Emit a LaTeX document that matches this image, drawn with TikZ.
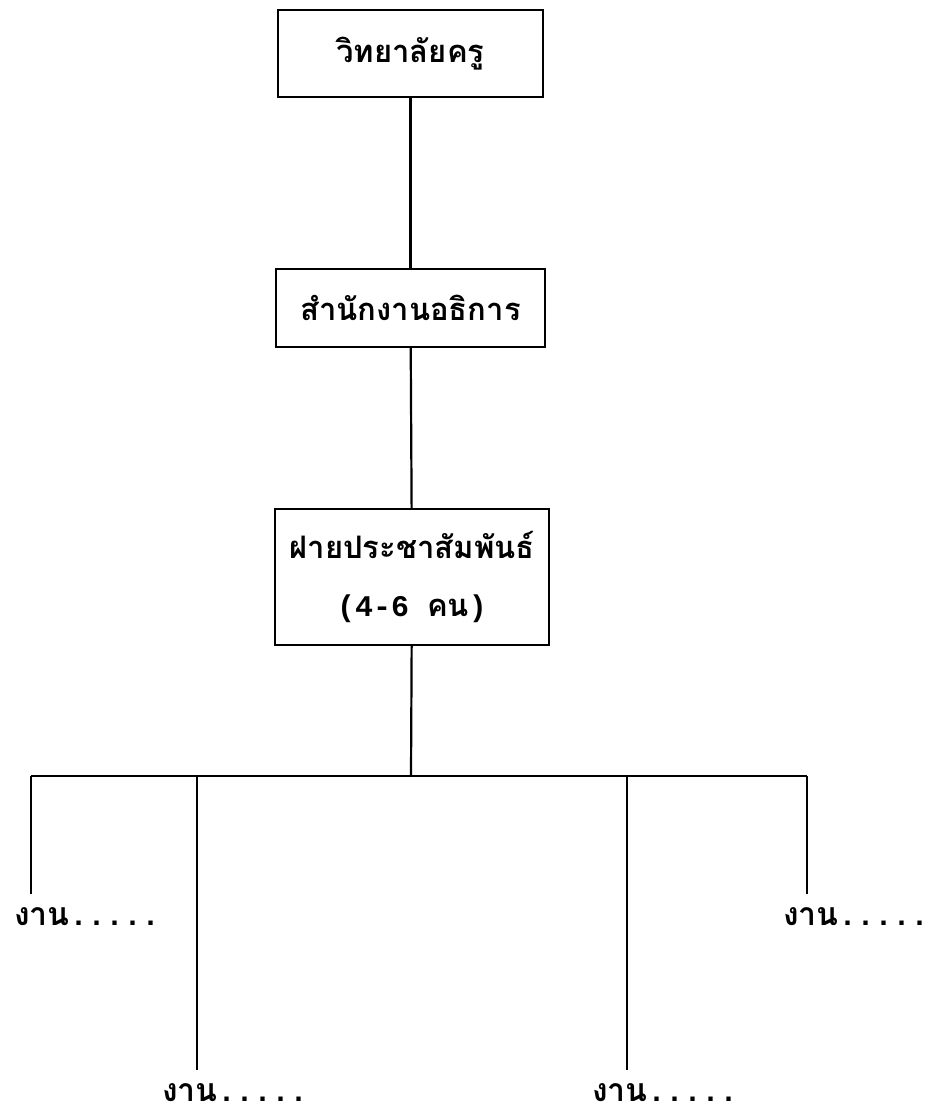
\documentclass[tikz,border=0pt]{standalone}
\usepackage{fontspec}
\newfontfamily\thaifont[Script=Thai]{Loma}
\newfontfamily\dotfont{Liberation Mono}
\usetikzlibrary{positioning}

\tikzset{
  unitbox/.style={draw, line width=2.2pt, inner sep=0pt, align=center,
    font=\thaifont\bfseries\fontsize{31}{58}\selectfont},
  worklabel/.style={anchor=base west, inner sep=0pt,
    font=\thaifont\bfseries\fontsize{32}{40}\selectfont}
}
\newcommand{\workdots}{{\dotfont\bfseries\fontsize{30}{40}\selectfont .....}}
\newcommand{\monotext}[1]{{\dotfont\bfseries\fontsize{30}{58}\selectfont #1}}

\begin{document}
\begin{tikzpicture}[x=1pt, y=-1pt, line width=2.2pt]
\useasboundingbox (0,0) rectangle (937,1114);

\node[unitbox, minimum width=265, minimum height=87] (college) at (410.5,53.5) {วิทยาลัยครู};
\node[unitbox, minimum width=269, minimum height=78] (office) at (410.5,308) {สำนักงานอธิการ};
\node[unitbox, minimum width=274, minimum height=136] (pr) at (412,577) {ฝายประชาสัมพันธ์\\\monotext{(4-6 }คน\monotext{)}};

\draw (college) -- (office);
\draw (office) -- (pr);

% branches
\coordinate (bar) at (411,776);
\foreach \x/\lx/\ly [count=\i] in {31/13/925, 197/161/1101, 627/591/1101, 807/782/925}
{
    \coordinate (b\i) at (\x,776);
    \node[worklabel] (work\i) at (\lx,\ly) {งาน\workdots};
    \draw[shorten >=12pt] (b\i) -- (b\i |- work\i.north);
}
\draw (pr) -- (bar);
\draw (b1) -- (b4);
\end{tikzpicture}
\end{document}
